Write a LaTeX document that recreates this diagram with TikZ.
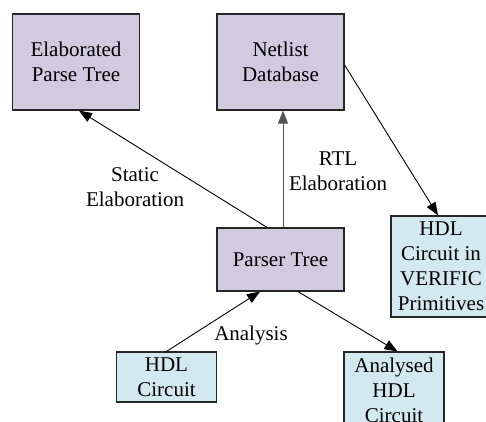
\documentclass[tikz,border=0pt]{standalone}
\usepackage{fontspec}
\setmainfont{Liberation Serif}
\usetikzlibrary{arrows.meta}
\definecolor{stagefill}{HTML}{D2CADF}
\definecolor{datafill}{HTML}{D2E9EF}
\definecolor{edgegray}{HTML}{555555}
\begin{document}
\begin{tikzpicture}[x=1pt,y=-1pt,
  every node/.style={font=\fontsize{21}{25}\selectfont, align=center, inner sep=0pt},
  box/.style={draw=black!85, line width=1.2pt, minimum width=#1},
  stage/.style={box=127pt, fill=stagefill},
  datum/.style={box=100pt, fill=datafill},
  flow/.style={line width=0.9pt, -{Triangle[length=13pt,width=10pt]}},
  lbl/.style={fill=none}
]
\useasboundingbox (0,0) rectangle (486,421);
\clip (0,0) rectangle (486,421);

% processing stages
\node[stage, minimum height=96pt] (ept) at (76,62) {Elaborated\\Parse Tree};
\node[stage, minimum height=96pt] (ndb) at (280.5,62) {Netlist\\Database};
\node[stage, minimum height=63pt] (pt) at (280.5,259.5) {Parser Tree};

% circuit representations
\node[datum, minimum height=101pt] (hv) at (441,266.5) {HDL\\Circuit in\\VERIFIC\\Primitives};
\node[datum, minimum height=50pt] (hdl) at (166.5,377) {HDL\\Circuit};
\node[datum, minimum height=77pt] (ahc) at (394,390.5) {Analysed\\HDL\\Circuit};

% edges
\draw[flow] ([xshift=-13.5pt]pt.north) -- ([xshift=3pt]ept.south);
\draw[flow, draw=edgegray] ([xshift=2.5pt]pt.north) -- ([xshift=2.5pt]ndb.south);
\draw[flow] ([yshift=-3pt]ndb.east) -- ([xshift=-3pt]hv.north);
\draw[flow] (hdl.north) -- ([xshift=-20.5pt]pt.south);
\draw[flow] ([xshift=17.5pt]pt.south) -- ([xshift=3.5pt]ahc.north);

% edge labels
\node[lbl] (lse) at (135,187) {Static\\Elaboration};
\node[lbl] (lrtl) at (338,171) {RTL\\Elaboration};
\node[lbl] (lan) at (251,335) {Analysis};
\end{tikzpicture}
\end{document}
